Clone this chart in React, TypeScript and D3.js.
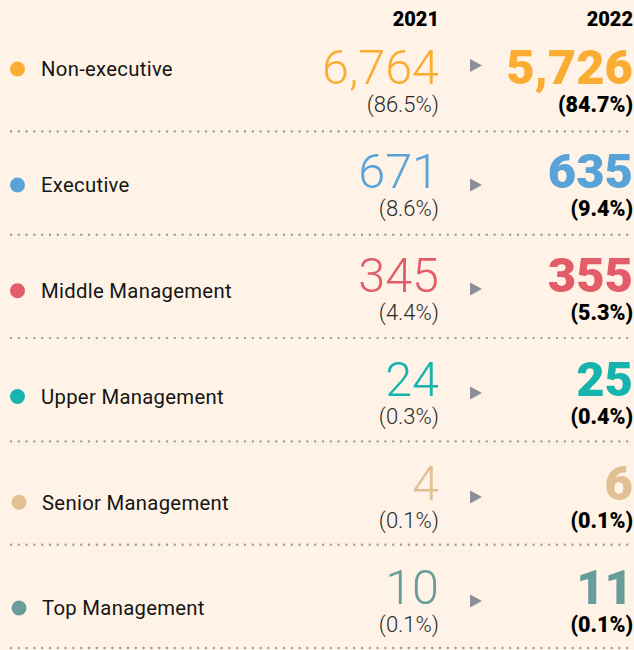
import React from "react";
import * as d3 from "d3";

const categories = ["Non-executive", "Executive", "Middle Management", "Upper Management", "Senior Management", "Top Management"];
const values2021 = [6764, 671, 345, 24, 4, 10];
const pct2021 = [86.5, 8.6, 4.4, 0.3, 0.1, 0.1];
const values2022 = [5726, 635, 355, 25, 6, 11];
const pct2022 = [84.7, 9.4, 5.3, 0.4, 0.1, 0.1];
const years = ["2021", "2022"];
const colors = ["#fbad33", "#5aa3d8", "#e35c6a", "#17b3ae", "#e1c093", "#689e99"];

const W = 634;
const H = 650;
const BG = "#fef3e6";

export default function App() {
  const idx = d3.range(categories.length);
  const baseY = d3.scaleLinear().domain([0, 5]).range([84, 604]);
  const labelScale = d3.scaleLinear().domain([1, 5]).range([185, 608]);
  const sepY = d3.scaleLinear().domain([0, 5]).range([131.5, 648]);
  const x2021 = 439;
  const x2022 = 633;
  const fmt = d3.format(",");
  const pfmt = (v: number) => `(${d3.format(".1f")(v)}%)`;
  const font = "Roboto, 'Noto Sans', sans-serif";

  return (
    <svg
      width={W}
      height={H}
      style={{ position: "fixed", left: 0, top: 0, display: "block" }}
      fontFamily={font}
    >
      <rect x={0} y={0} width={W} height={H} fill={BG} />
      <text x={x2021} y={25.5} textAnchor="end" fontSize={20} fontWeight={900} fill="#000">{years[0]}</text>
      <text x={x2022} y={25.5} textAnchor="end" fontSize={20} fontWeight={900} fill="#000">{years[1]}</text>
      {idx.map((i) => {
        const b = baseY(i);
        const labelY = i === 0 ? 69 : labelScale(i);
        const arrowY = i === 0 ? b - 18.5 : b - 3;
        return (
          <g key={categories[i]}>
            <circle cx={i >= 4 ? 19 : 17.5} cy={labelY} r={7.5} fill={colors[i]} />
            <text x={i >= 4 ? 42 : 41} y={labelY} dy="0.36em" fontSize={20.3} letterSpacing={0.3} fill="#151515">{categories[i]}</text>
            <text x={x2021} y={b} textAnchor="end" fontSize={48.5} fontWeight={300} fill={colors[i]}>{fmt(values2021[i])}</text>
            <text x={x2021} y={b + 27.5} textAnchor="end" fontSize={22} fontWeight={300} fill="#2a2a2a">{pfmt(pct2021[i])}</text>
            <path d={`M470,${arrowY - 6.5}L482,${arrowY}L470,${arrowY + 6.5}Z`} fill="#8e8f94" />
            <text x={x2022} y={b} textAnchor="end" fontSize={49} fontWeight={900} fill={colors[i]}>{fmt(values2022[i])}</text>
            <text x={x2022} y={b + 27.5} textAnchor="end" fontSize={21.5} fontWeight={900} fill="#000">{pfmt(pct2022[i])}</text>
            <line x1={11} x2={W} y1={sepY(i)} y2={sepY(i)} stroke="#9d9d9d" strokeWidth={2.4} strokeLinecap="round" strokeDasharray="0 7.8" />
          </g>
        );
      })}
    </svg>
  );
}
